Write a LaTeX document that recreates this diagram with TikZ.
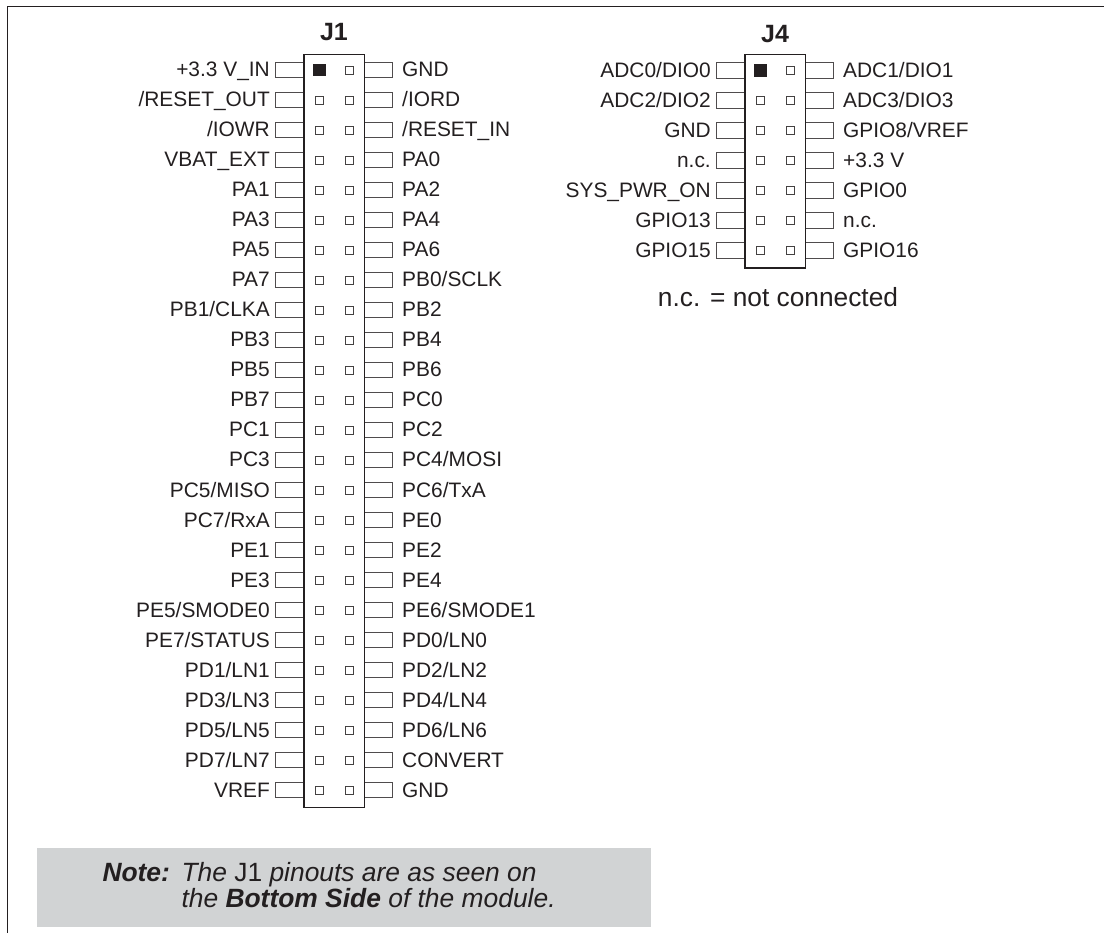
\documentclass[tikz,border=0pt]{standalone}
\usepackage{fontspec}
\setmainfont{Liberation Sans}
\usepackage{xcolor}
\usetikzlibrary{positioning}
\definecolor{inkdark}{RGB}{35,31,32}
\definecolor{notegrey}{RGB}{209,211,212}
\tikzset{
  frameline/.style={draw=inkdark, line width=1.3pt},
  hdrbody/.style={draw=inkdark, fill=white, line width=1.1pt},
  stub/.style={draw=inkdark!80, line width=1pt, minimum width=29pt, minimum height=15.5pt, inner sep=0pt},
  padhole/.style={draw=inkdark!85, fill=white, line width=0.8pt, minimum size=8pt, inner sep=0pt},
  padone/.style={fill=inkdark, minimum size=12.5pt, inner sep=0pt},
  pinlabel/.style={text=inkdark, font=\fontsize{20.9}{23}\selectfont, inner sep=0pt, text height=14pt, text depth=0pt},
  hdrtitle/.style={text=inkdark, font=\fontsize{25}{27}\selectfont\bfseries, inner sep=0pt},
  notetext/.style={text=inkdark, font=\fontsize{26.4}{26}\selectfont\itshape, inner sep=0pt, align=left}
}
% #1=name, #2=left edge of body, #3=first row y, #4=row count, #5=left label/right label list
\newcommand{\DrawHeader}[5]{%
  \foreach \lab/\rab [count=\i] in {#5}{%
    \pgfmathsetmacro{\yy}{#3+30*(\i-1)}%
    \node[stub] (#1a\i) at (#2-14,\yy) {};
    \node[stub] (#1b\i) at (#2+60+14,\yy) {};
    \node[pinlabel, left=5pt of #1a\i] (#1la\i) {\lab};
    \node[pinlabel, right=9pt of #1b\i] (#1lb\i) {\rab};
  }%
  \path[hdrbody] (#2,#3-15.6) rectangle (#2+60.5,{#3+30*(#4-1)+17.5});
  \foreach \i in {1,...,#4}{%
    \pgfmathsetmacro{\yy}{#3+30*(\i-1)}%
    \node[padhole] (#1p\i) at (#2+15.3,\yy) {};
    \node[padhole] (#1q\i) at (#2+45.3,\yy) {};
  }%
  \node[padone] (#1pin) at (#2+15.3,#3) {};
}
\begin{document}
\begin{tikzpicture}[x=1pt,y=-1pt]
  \useasboundingbox (0,0) rectangle (1104,933);
  % page rules
  \coordinate (ruleA) at (1104,6.5);
  \coordinate (ruleB) at (7.5,6.5);
  \coordinate (ruleC) at (7.5,933);
  \draw[frameline] (ruleA) -- (ruleB) -- (ruleC);
  % connector J1
  \DrawHeader{J1}{304}{70}{25}{%
    +3.3 V\_IN/GND, {/RESET\_OUT}/{/IORD}, {/IOWR}/{/RESET\_IN}, VBAT\_EXT/PA0,
    PA1/PA2, PA3/PA4, PA5/PA6, PA7/{PB0/SCLK}, {PB1/CLKA}/PB2, PB3/PB4, PB5/PB6,
    PB7/PC0, PC1/PC2, PC3/{PC4/MOSI}, {PC5/MISO}/{PC6/TxA}, {PC7/RxA}/PE0, PE1/PE2,
    PE3/PE4, {PE5/SMODE0}/{PE6/SMODE1}, {PE7/STATUS}/{PD0/LN0}, {PD1/LN1}/{PD2/LN2},
    {PD3/LN3}/{PD4/LN4}, {PD5/LN5}/{PD6/LN6}, {PD7/LN7}/CONVERT, VREF/GND}
  \node[hdrtitle] (J1title) at (334,32) {J1};
  % connector J4
  \DrawHeader{J4}{745}{70.5}{7}{%
    {ADC0/DIO0}/{ADC1/DIO1}, {ADC2/DIO2}/{ADC3/DIO3}, GND/{GPIO8/VREF}, n.c./+3.3 V,
    SYS\_PWR\_ON/GPIO0, GPIO13/n.c., GPIO15/GPIO16}
  \node[hdrtitle] (J4title) at (775,34) {J4};
  \node[pinlabel, font=\fontsize{26.3}{28}\selectfont, anchor=base] (ncnote) at (778,306.7) {n.c. = not connected};
  % note
  \path[fill=notegrey] (36.7,848) rectangle (651,926.7);
  \node[notetext, anchor=base west] (notebody) at (102.3,907.7)
    {\makebox[79pt][l]{\textbf{Note:}}The {\upshape J1} pinouts are as seen on\\
     \makebox[79pt][l]{}the \textbf{Bottom Side} of the module.};
\end{tikzpicture}
\end{document}
